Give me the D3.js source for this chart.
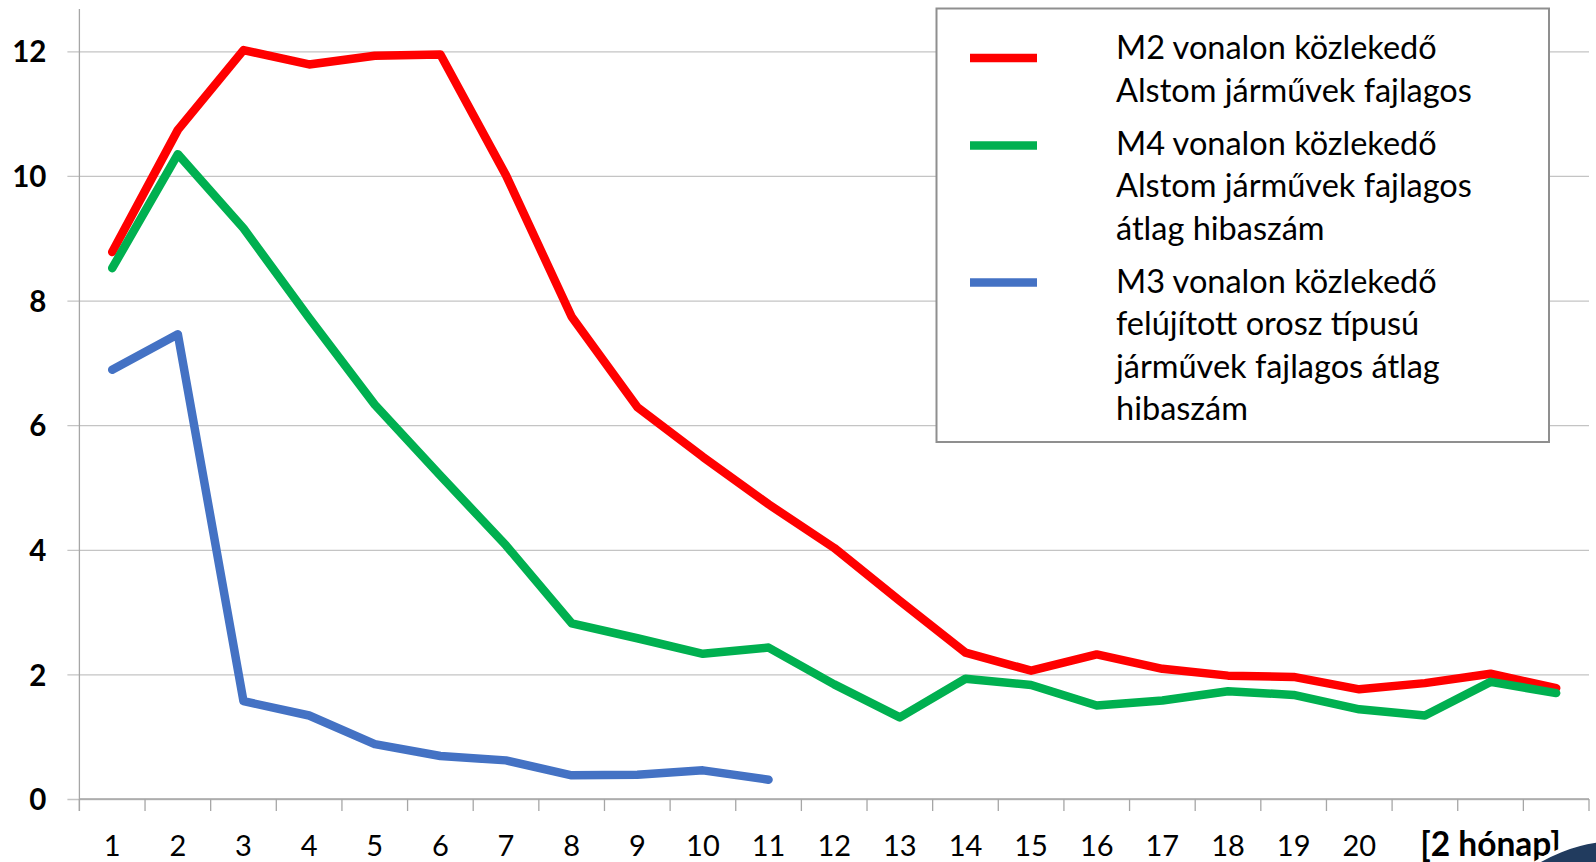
<!DOCTYPE html>
<html>
<head>
<meta charset="utf-8">
<script src="https://cdn.jsdelivr.net/npm/d3@7/dist/d3.min.js"></script>
<style>
    html, body { margin: 0; padding: 0; background: #fff; overflow: hidden; }
    text { font-family: Lato, "Open Sans", sans-serif; fill: #000; }
</style>
</head>
<body>
<div id="container"></div>
<script>
// tick labels on the category axis (23 periods, only some labelled)
const xLabels = ["1","2","3","4","5","6","7","8","9","10","11","12","13","14","15","16","17","18","19","20","","[2 hónap]",""];
const yTicks = [0, 2, 4, 6, 8, 10, 12];

// average failure counts per period
const m2Values = [8.78, 10.74, 12.02, 11.79, 11.93, 11.95, 10.01, 7.74, 6.29, 5.49, 4.73, 4.03, 3.18, 2.35, 2.06, 2.32, 2.09, 1.98, 1.96, 1.76, 1.86, 2.01, 1.78];
const m4Values = [8.52, 10.35, 9.16, 7.72, 6.33, 5.19, 4.07, 2.82, 2.58, 2.33, 2.43, 1.84, 1.31, 1.93, 1.83, 1.50, 1.58, 1.73, 1.67, 1.44, 1.34, 1.88, 1.70];
const m3Values = [6.89, 7.46, 1.57, 1.34, 0.88, 0.69, 0.62, 0.38, 0.39, 0.46, 0.31];

const m2Label = ["M2 vonalon közlekedő", "Alstom járművek fajlagos"];
const m4Label = ["M4 vonalon közlekedő", "Alstom járművek fajlagos", "átlag hibaszám"];
const m3Label = ["M3 vonalon közlekedő", "felújított orosz típusú", "járművek fajlagos átlag", "hibaszám"];

const colors = ["#FF0000", "#00B050", "#4472C4"];
// where each legend swatch sits relative to its first text line
const swatchDy = [10, 2, 1];

const series = [
    {values: m2Values, label: m2Label},
    {values: m4Values, label: m4Label},
    {values: m3Values, label: m3Label}
];

const w = 1596, h = 862;
const margin = {top: 9, right: 7, bottom: 63, left: 79.4};
const yMax = 12.68;

const svg = d3.select("#container")
    .append("svg")
    .attr("width", w)
    .attr("height", h);

const xBand = d3.scaleBand()
    .domain(d3.range(xLabels.length))
    .range([margin.left, w - margin.right])
    .paddingInner(0);

const xCenter = (i) => xBand(i) + xBand.bandwidth() / 2;

const yScale = d3.scaleLinear()
    .domain([0, yMax])
    .range([h - margin.bottom, margin.top]);

// horizontal gridlines + y axis labels
const yAxis = d3.axisLeft(yScale)
    .tickValues(yTicks)
    .tickSize(-(w - margin.right - margin.left))
    .tickSizeOuter(0)
    .tickPadding(33)
    .tickFormat(d3.format("d"));

const gy = svg.append("g")
    .attr("transform", "translate(" + margin.left + ",0)")
    .call(yAxis);
gy.select(".domain").remove();
gy.selectAll(".tick line")
    .attr("x1", -12)
    .attr("stroke", "#c4c4c4")
    .attr("stroke-width", 1.3);
gy.selectAll(".tick text")
    .attr("font-size", 29.5)
    .attr("font-weight", "bold")
    .attr("dy", "0.36em")
    .style("font-family", "Lato, sans-serif");

// y axis line
svg.append("line")
    .attr("x1", margin.left).attr("x2", margin.left)
    .attr("y1", margin.top).attr("y2", yScale(0) + 12)
    .attr("stroke", "#a6a6a6")
    .attr("stroke-width", 1.3);

// x axis line and category tick marks
svg.append("line")
    .attr("x1", margin.left).attr("x2", w - margin.right)
    .attr("y1", yScale(0)).attr("y2", yScale(0))
    .attr("stroke", "#a6a6a6")
    .attr("stroke-width", 1.3);

const boundaries = d3.range(xLabels.length + 1).map((i) => margin.left + i * xBand.step());
svg.selectAll(".xtick")
    .data(boundaries)
    .enter()
    .append("line")
    .attr("class", "xtick")
    .attr("x1", (d) => d).attr("x2", (d) => d)
    .attr("y1", yScale(0)).attr("y2", yScale(0) + 12)
    .attr("stroke", "#a6a6a6")
    .attr("stroke-width", 1.3);

svg.selectAll(".xlabel")
    .data(xLabels)
    .enter()
    .append("text")
    .attr("class", "xlabel")
    .attr("x", (d, i) => xCenter(i))
    .attr("y", yScale(0) + 57)
    .attr("text-anchor", "middle")
    .attr("font-size", (d) => d.startsWith("[") ? 33.5 : 29)
    .attr("font-weight", (d) => d.startsWith("[") ? "bold" : "normal")
    .text((d) => d);

// the data lines
const line = d3.line()
    .x((d, i) => xCenter(i))
    .y((d) => yScale(d))
    .curve(d3.curveLinear);

svg.selectAll(".series")
    .data(series)
    .enter()
    .append("path")
    .attr("class", "series")
    .attr("d", (d) => line(d.values))
    .attr("fill", "none")
    .attr("stroke", (d, i) => colors[i])
    .attr("stroke-width", 8.5)
    .attr("stroke-linejoin", "round")
    .attr("stroke-linecap", "round");

// legend
const legend = svg.append("g").attr("id", "legend");
legend.append("rect")
    .attr("x", 936.5).attr("y", 8.5)
    .attr("width", 612.5).attr("height", 433.5)
    .attr("fill", "#fff")
    .attr("stroke", "#8f8f8f")
    .attr("stroke-width", 2);

const lineGap = 42.5, rowGap = 53;
let cy = 48;
series.forEach((s, i) => {
    legend.append("line")
        .attr("x1", 970).attr("x2", 1037)
        .attr("y1", cy + swatchDy[i]).attr("y2", cy + swatchDy[i])
        .attr("stroke", colors[i])
        .attr("stroke-width", 8.5);
    s.label.forEach((t, k) => {
        legend.append("text")
            .attr("x", 1116)
            .attr("y", cy + k * lineGap + 11)
            .attr("font-size", 32.5)
            .text(t);
    });
    cy += (s.label.length - 1) * lineGap + rowGap;
});

// slide decoration peeking in at the corner
svg.append("circle")
    .attr("cx", 1620).attr("cy", 1000).attr("r", 161)
    .attr("fill", "#213b5e")
    .attr("stroke", "#fff")
    .attr("stroke-width", 4);
</script>
</body>
</html>
